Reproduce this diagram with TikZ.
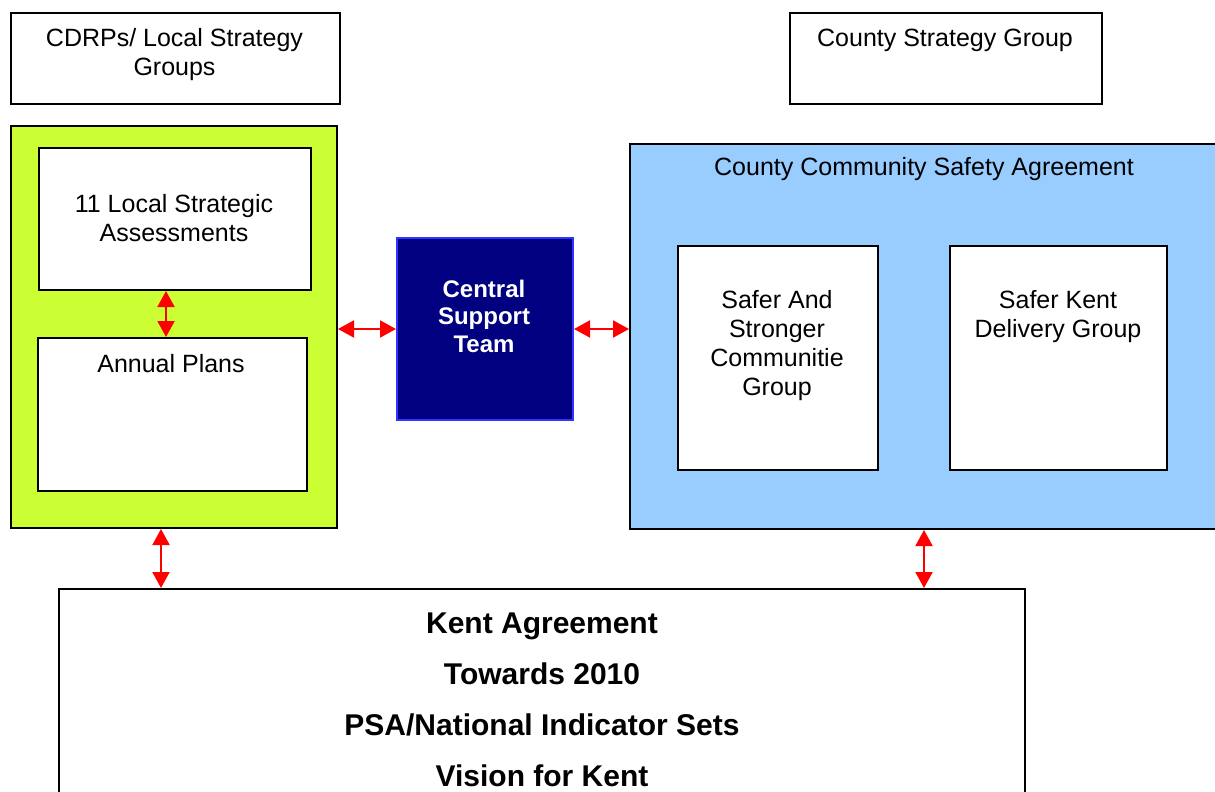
\documentclass[tikz,border=0pt]{standalone}
\usepackage{fontspec}
\setmainfont{Liberation Sans}
\usepackage{tikz}
\usetikzlibrary{arrows.meta,positioning}
\usepackage{xcolor}
\definecolor{ksgreen}{RGB}{204,255,51}
\definecolor{ksblue}{RGB}{153,204,255}
\definecolor{ksnavy}{RGB}{0,0,128}
\definecolor{ksedge}{RGB}{51,51,255}
\definecolor{ksred}{RGB}{255,0,0}
\tikzstyle{linkarrow} = [line width=1pt, ksred, {Triangle[length=8pt,width=8.5pt]}-{Triangle[length=8pt,width=8.5pt]}]
\tikzstyle{plainbox} = [rectangle, anchor=north west, inner sep=0pt, draw=black, line width=1pt, fill=white]
\tikzstyle{greenbox} = [plainbox, fill=ksgreen]
\tikzstyle{bluebox} = [plainbox, fill=ksblue]
\tikzstyle{teambox} = [plainbox, fill=ksnavy, draw=ksedge]
\tikzstyle{boxtext} = [align=center, inner sep=0pt, font=\fontsize{12.5}{14.5}\selectfont]

\begin{document}
\begin{tikzpicture}[x=0.5pt, y=-0.5pt]
\useasboundingbox (0,0) rectangle (1215,792);
\clip (0,0) rectangle (1215,792);
% Top groups
\node[plainbox, minimum width=164.5pt, minimum height=45.5pt] (cdrp) at (10,12) {};
\node[boxtext] (cdrptext) at (174.5,55) {CDRPs/ Local Strategy\\Groups};
\node[plainbox, minimum width=156pt, minimum height=45.5pt] (csg) at (789,12) {};
\node[boxtext] (csgtext) at (945,40) {County Strategy Group};

% Local side
\node[greenbox, minimum width=163pt, minimum height=201pt] (green) at (10,125) {};
\node[plainbox, minimum width=136pt, minimum height=71pt] (lsa) at (38,147) {};
\node[boxtext] (lsatext) at (174,218.5) {11 Local Strategic\\Assessments};
\node[plainbox, minimum width=134.5pt, minimum height=76.5pt] (plans) at (37,337) {};
\node[boxtext] (planstext) at (171,363.5) {Annual Plans};

% Central team
\node[teambox, minimum width=88pt, minimum height=91pt] (central) at (396,237) {};
\node[boxtext, text=white, font=\fontsize{12}{13.75}\selectfont\bfseries] (centraltext) at (484,316) {Central\\Support\\Team};

% County side
\node[bluebox, minimum width=294pt, minimum height=192.5pt] (blue) at (629,143) {};
\node[boxtext] (bluetext) at (924,169) {County Community Safety Agreement};
\node[plainbox, minimum width=100pt, minimum height=112pt] (sasc) at (677,245) {};
\node[boxtext] (sasctext) at (777,345.5) {Safer And\\Stronger\\Communitie\\Group};
\node[plainbox, minimum width=108.5pt, minimum height=112pt] (skdg) at (949,245) {};
\node[boxtext] (skdgtext) at (1058,316.5) {Safer Kent\\Delivery Group};

% Kent agreement
\node[plainbox, minimum width=483pt, minimum height=111pt, align=center, font=\fontsize{15}{25.5}\selectfont\bfseries] (kent) at (58,588) {Kent Agreement\\Towards 2010\\PSA/National Indicator Sets\\Vision for Kent};

% Links
\draw[linkarrow] ([xshift=-4.5pt]lsa.south) -- ([xshift=-4.5pt]lsa.south |- plans.north);
\draw[linkarrow] (central.west -| green.east) -- (central.west);
\draw[linkarrow] (central.east) -- (central.east -| blue.west);
\draw[linkarrow] ([xshift=-6.5pt]green.south) -- ([xshift=-6.5pt]green.south |- kent.north);
\draw[linkarrow] (blue.south) -- (blue.south |- kent.north);
\end{tikzpicture}
\end{document}
